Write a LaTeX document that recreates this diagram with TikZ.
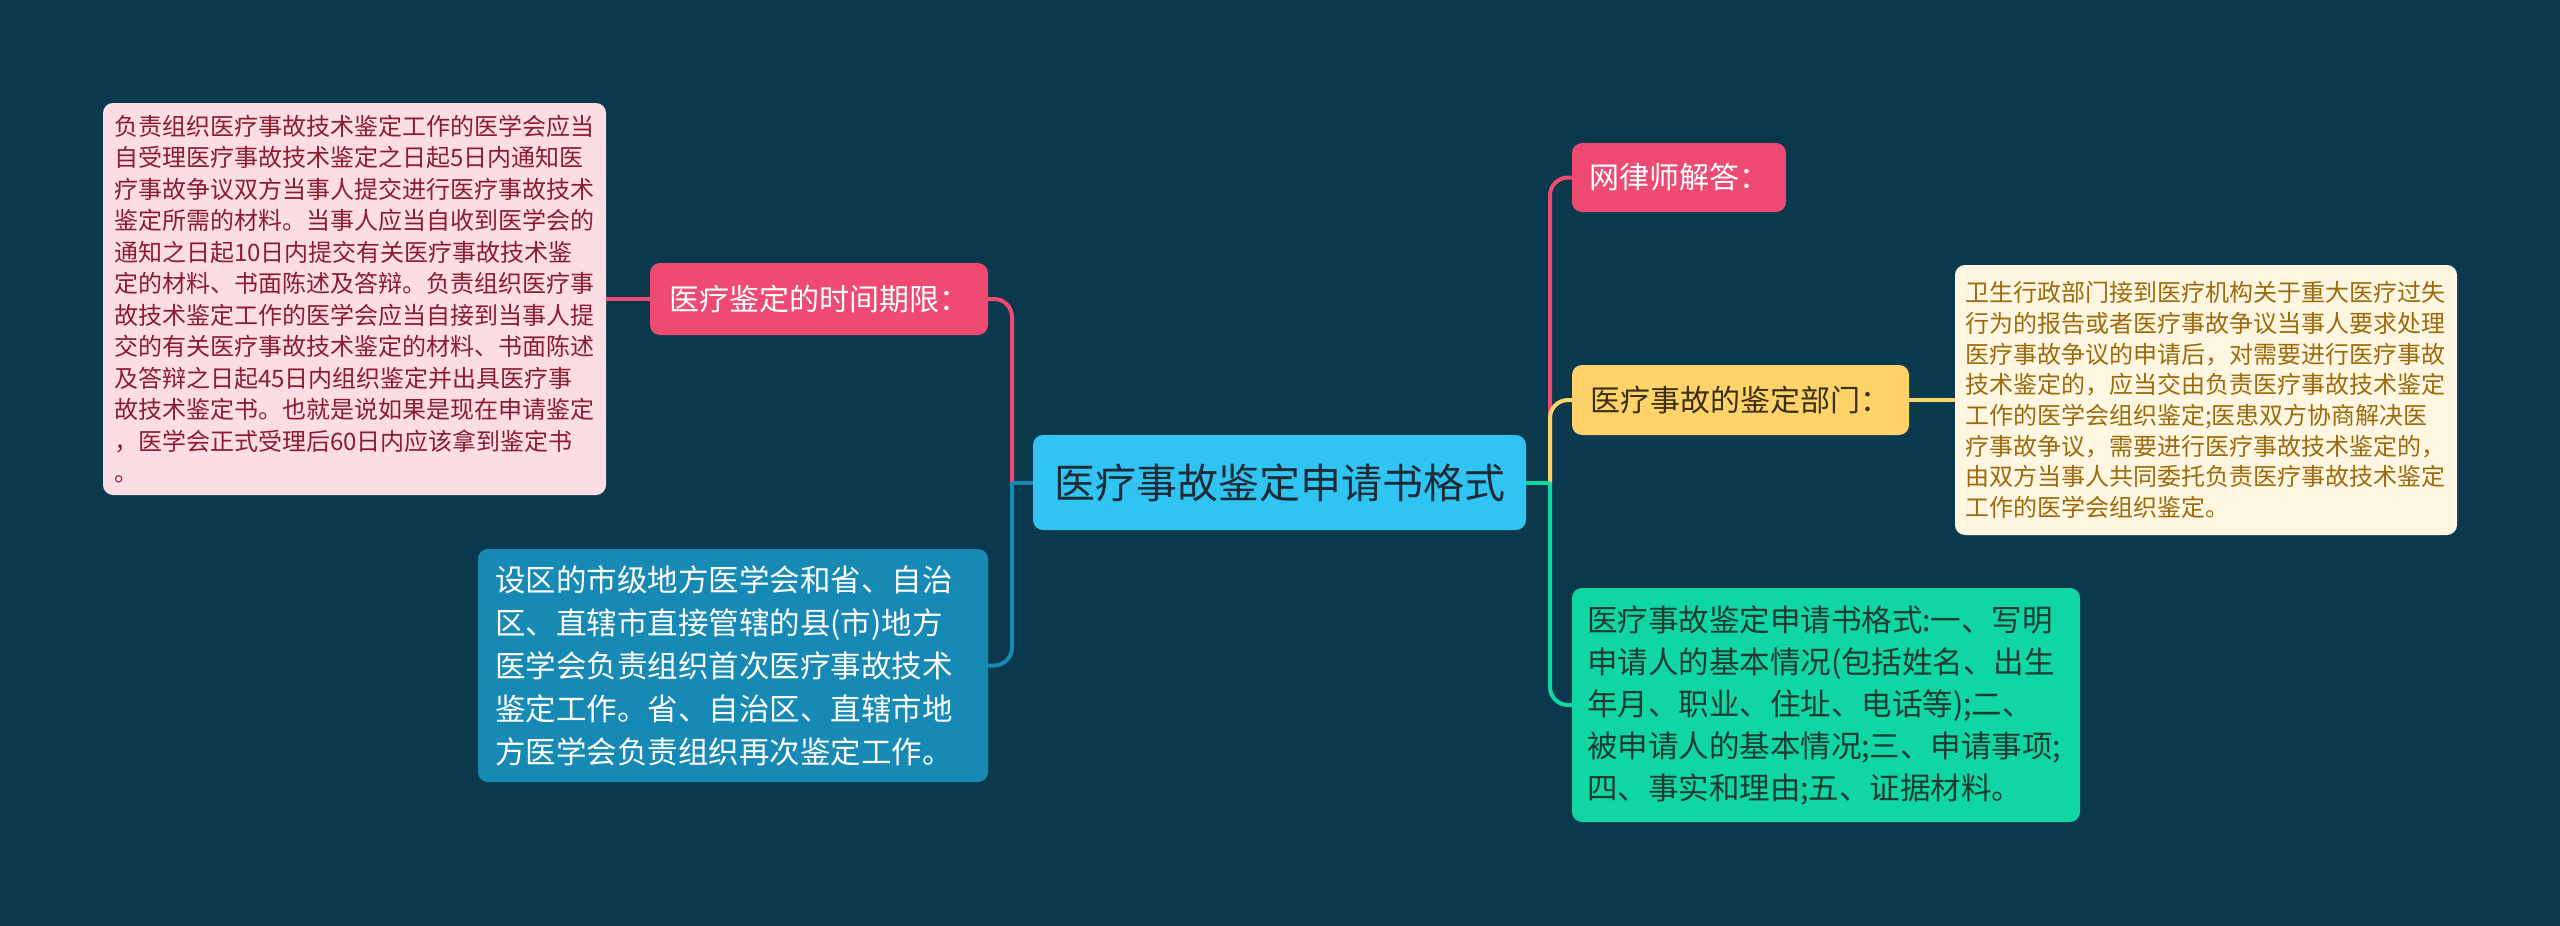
\documentclass[tikz,border=0pt]{standalone}
\usepackage{fontspec}
\setmainfont{Noto Sans CJK SC}
\definecolor{bg}{HTML}{0A394D}
\definecolor{cCentral}{HTML}{30C4F3}
\definecolor{cCentralTxt}{HTML}{1D2B36}
\definecolor{cPink}{HTML}{EE4A72}
\definecolor{cPinkLight}{HTML}{FCDDE3}
\definecolor{cPinkTxt}{HTML}{8C1C33}
\definecolor{cBlue}{HTML}{1789B5}
\definecolor{cYellow}{HTML}{FDD36A}
\definecolor{cYellowTxt}{HTML}{3A2F10}
\definecolor{cCream}{HTML}{FEF6E1}
\definecolor{cCreamTxt}{HTML}{9B6B0C}
\definecolor{cGreen}{HTML}{0FD6A2}
\definecolor{cGreenTxt}{HTML}{1C3B33}
\tikzset{
  box/.style={rounded corners=10pt, inner ysep=0pt, align=left, draw=none},
  link/.style={line width=4pt},
  elbow/.style={line width=4pt, rounded corners=18pt}
}
\begin{document}
\begin{tikzpicture}[x=1pt,y=-1pt]
\fill[bg] (0,0) rectangle (2560,926);
\useasboundingbox (0,0) rectangle (2560,926);

% central
\node[box, fill=cCentral, text=cCentralTxt, minimum width=493pt, minimum height=95pt, inner xsep=0pt,
  font=\fontsize{41}{48}\selectfont] (c) at (1279.5,482.5) {医疗事故鉴定申请书格式};

% left side
\node[box, fill=cPink, text=white, minimum width=338pt, minimum height=72pt, inner xsep=0pt,
  font=\fontsize{30}{36}\selectfont] (tl) at (819,299) {医疗鉴定的时间期限：};

\node[box, fill=cPinkLight, text=cPinkTxt, minimum height=392pt, inner xsep=11pt, text width=481pt,
  font=\fontsize{24}{31.5}\selectfont] (detL) at (354.5,299) {负责组织医疗事故技术鉴定工作的医学会应当\\
自受理医疗事故技术鉴定之日起5日内通知医\\
疗事故争议双方当事人提交进行医疗事故技术\\
鉴定所需的材料。当事人应当自收到医学会的\\
通知之日起10日内提交有关医疗事故技术鉴\\
定的材料、书面陈述及答辩。负责组织医疗事\\
故技术鉴定工作的医学会应当自接到当事人提\\
交的有关医疗事故技术鉴定的材料、书面陈述\\
及答辩之日起45日内组织鉴定并出具医疗事\\
故技术鉴定书。也就是说如果是现在申请鉴定\\
，医学会正式受理后60日内应该拿到鉴定书\\
。};

\node[box, fill=cBlue, text=white, minimum height=233pt, inner xsep=17pt, text width=476pt,
  font=\fontsize{30.5}{43}\selectfont] (bl) at (733,665.5) {设区的市级地方医学会和省、自治\\
区、直辖市直接管辖的县(市)地方\\
医学会负责组织首次医疗事故技术\\
鉴定工作。省、自治区、直辖市地\\
方医学会负责组织再次鉴定工作。};

% right side
\node[box, fill=cPink, text=white, minimum width=214pt, minimum height=69pt, inner xsep=0pt,
  font=\fontsize{30}{36}\selectfont] (ans) at (1679,177.5) {网律师解答：};

\node[box, fill=cYellow, text=cYellowTxt, minimum width=337pt, minimum height=70pt, inner xsep=0pt,
  font=\fontsize{30}{36}\selectfont] (dept) at (1740.5,400) {医疗事故的鉴定部门：};

\node[box, fill=cCream, text=cCreamTxt, minimum height=270pt, inner xsep=10pt, text width=482pt,
  font=\fontsize{24}{30.7}\selectfont] (detR) at (2206,400) {卫生行政部门接到医疗机构关于重大医疗过失\\
行为的报告或者医疗事故争议当事人要求处理\\
医疗事故争议的申请后，对需要进行医疗事故\\
技术鉴定的，应当交由负责医疗事故技术鉴定\\
工作的医学会组织鉴定;医患双方协商解决医\\
疗事故争议，需要进行医疗事故技术鉴定的，\\
由双方当事人共同委托负责医疗事故技术鉴定\\
工作的医学会组织鉴定。};

\node[box, fill=cGreen, text=cGreenTxt, minimum height=234pt, inner xsep=15pt, text width=478pt,
  font=\fontsize{30.5}{42}\selectfont] (fmt) at (1826,705) {医疗事故鉴定申请书格式:一、写明\\
申请人的基本情况(包括姓名、出生\\
年月、职业、住址、电话等);二、\\
被申请人的基本情况;三、申请事项;\\
四、事实和理由;五、证据材料。};

% junctions
\coordinate (jl) at (1012,482.5);
\coordinate (jr) at (1550,482.5);

% left connectors
\draw[link, cPink] (tl.west) -- (detL.east);
\draw[elbow, cPink] (tl.east) -| (jl);
\draw[link, cBlue] (c.west) -- (jl);
\draw[elbow, cBlue] (jl) |- (bl.east);

% right connectors
\draw[elbow, cPink] (jr) |- (ans.west);
\draw[elbow, cYellow] (jr) |- (dept.west);
\draw[link, cYellow] (dept.east) -- (detR.west);
\draw[link, cGreen] (c.east) -- (jr);
\draw[elbow, cGreen] (jr) |- (fmt.west);
\end{tikzpicture}
\end{document}
